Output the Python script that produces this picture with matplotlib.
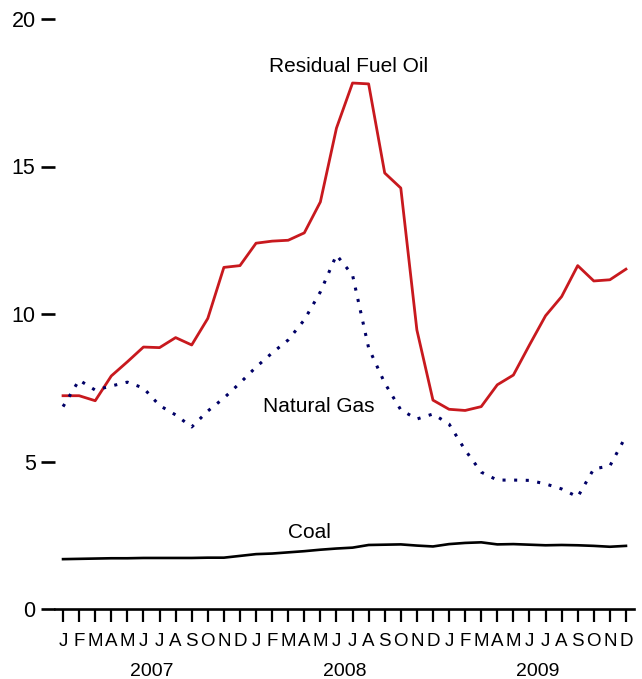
import numpy as np
import matplotlib
matplotlib.use("Agg")
import matplotlib.pyplot as plt

plt.rcParams['font.family'] = ['Liberation Sans', 'DejaVu Sans']

# monthly prices, Jan 2007 - Dec 2009
months = ['J', 'F', 'M', 'A', 'M', 'J', 'J', 'A', 'S', 'O', 'N', 'D'] * 3
years = ['2007', '2008', '2009']

residual_fuel_oil = [7.23, 7.23, 7.06, 7.90, 8.38, 8.88, 8.86, 9.20, 8.95, 9.85, 11.58, 11.64,
                     12.40, 12.47, 12.50, 12.75, 13.80, 16.30, 17.83, 17.80, 14.78, 14.27, 9.46, 7.08,
                     6.77, 6.73, 6.86, 7.60, 7.93, 8.95, 9.94, 10.59, 11.64, 11.12, 11.16, 11.52]
natural_gas = [6.86, 7.76, 7.42, 7.56, 7.69, 7.49, 6.90, 6.58, 6.17, 6.71, 7.15, 7.66,
               8.20, 8.68, 9.12, 9.80, 10.75, 12.00, 11.32, 8.85, 7.66, 6.75, 6.44, 6.61,
               6.27, 5.39, 4.64, 4.37, 4.37, 4.36, 4.24, 4.07, 3.80, 4.75, 4.85, 5.86]
coal = [1.69, 1.70, 1.71, 1.72, 1.72, 1.73, 1.73, 1.73, 1.73, 1.74, 1.74, 1.80,
        1.86, 1.88, 1.92, 1.96, 2.01, 2.05, 2.08, 2.17, 2.18, 2.19, 2.15, 2.12,
        2.20, 2.24, 2.26, 2.19, 2.20, 2.18, 2.16, 2.17, 2.16, 2.14, 2.11, 2.14]

t = np.arange(len(months))

fig = plt.figure(figsize=(6.42, 6.79), dpi=100)
ax = fig.add_axes([55/642, 70/679, 579/642, 590/679])

ax.plot(t, residual_fuel_oil, color='#c8191e', lw=2.0)
ax.plot(t, natural_gas, color='#000066', lw=2.2, linestyle=(0, (1, 2.8)))
ax.plot(t, coal, color='black', lw=1.9)

# series labels
ax.text(17.76, 18.4, 'Residual Fuel Oil', ha='center', va='center', fontsize=15)
ax.text(15.9, 6.88, 'Natural Gas', ha='center', va='center', fontsize=15)
ax.text(15.3, 2.58, 'Coal', ha='center', va='center', fontsize=15)

ax.set_xlim(-0.5, 35.5)
ax.set_ylim(0, 20)
ax.set_yticks([0, 5, 10, 15, 20])
ax.set_xticks(t)
ax.set_xticklabels(months, fontsize=13.5)
ax.tick_params(axis='y', length=10, width=1.9, pad=4, labelsize=15.5)
ax.tick_params(axis='x', length=9.5, width=1.6, pad=8)

for s in ['top', 'right', 'left']:
    ax.spines[s].set_visible(False)
ax.spines['bottom'].set_linewidth(1.9)

# year labels under the months
for i, y in enumerate(years):
    ax.annotate(y, xy=(12*i + 5.5, 0), xycoords=('data', 'axes fraction'),
                xytext=(0, -62*0.72), textcoords='offset points',
                ha='center', va='center', fontsize=14)

fig.savefig('out.png', dpi=100)
